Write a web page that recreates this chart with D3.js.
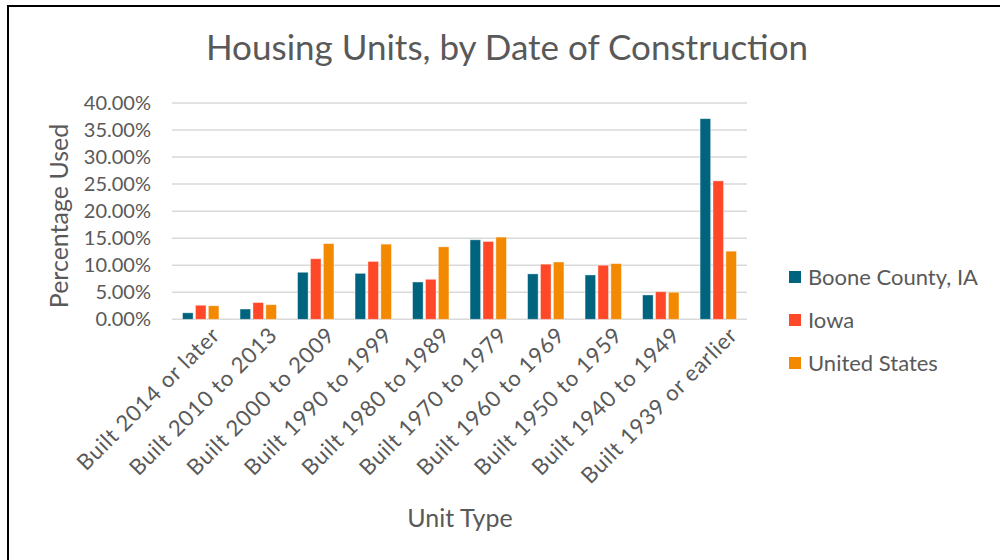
<!DOCTYPE html>
<html>
<head>
<meta charset="utf-8">
<script src="https://cdn.jsdelivr.net/npm/d3@7"></script>
<style>
  body { margin: 0; background: #fff; }
  text { font-family: Lato, "Open Sans", sans-serif; fill: #595959; }
</style>
</head>
<body>
<div id="chart"></div>
<script>
var categories = ["Built 2014 or later", "Built 2010 to 2013", "Built 2000 to 2009", "Built 1990 to 1999",
  "Built 1980 to 1989", "Built 1970 to 1979", "Built 1960 to 1969", "Built 1950 to 1959",
  "Built 1940 to 1949", "Built 1939 or earlier"];
var seriesNames = ["Boone County, IA", "Iowa", "United States"];
var boone = [1.2, 1.9, 8.7, 8.5, 6.9, 14.7, 8.4, 8.2, 4.5, 37.1];
var iowa = [2.6, 3.1, 11.2, 10.7, 7.4, 14.4, 10.2, 10.0, 5.1, 25.6];
var us = [2.5, 2.7, 14.0, 13.9, 13.4, 15.2, 10.6, 10.3, 5.0, 12.6];
var yTicks = [0, 5, 10, 15, 20, 25, 30, 35, 40];
var colors = ["#00647f", "#ff4827", "#f28900"];

var width = 1000,
  height = 560,
  margin = {left: 172, right: 253, top: 103, bottom: 241};

var svg = d3.select("#chart")
  .append("svg")
  .attr("width", width)
  .attr("height", height);

// frame around the chart area
svg.append("rect")
  .attr("x", 8).attr("y", 6)
  .attr("width", 1010).attr("height", 570)
  .style("fill", "none")
  .style("stroke", "#000")
  .style("stroke-width", 2);

var rows = categories.map(function (c, i) {
  return {cat: c, values: [boone[i], iowa[i], us[i]]};
});

var x0 = d3.scaleBand()
  .domain(categories)
  .range([margin.left, width - margin.right])
  .paddingInner(0.367)
  .paddingOuter(0.183);

var x1 = d3.scaleBand()
  .domain(d3.range(seriesNames.length))
  .range([0, x0.bandwidth()])
  .paddingInner(0.18);

var y = d3.scaleLinear()
  .domain([0, 40])
  .range([height - margin.bottom + 0.3, margin.top]);

// gridlines
svg.append("g")
  .selectAll("line")
  .data(yTicks)
  .enter().append("line")
  .attr("x1", margin.left)
  .attr("x2", width - margin.right)
  .attr("y1", function (d) { return y(d); })
  .attr("y2", function (d) { return y(d); })
  .style("stroke", "#d9d9d9")
  .style("stroke-width", 1.5);

// y axis labels
var yAxis = svg.append("g")
  .attr("transform", "translate(" + (margin.left - 8) + ",0)")
  .call(d3.axisLeft(y).tickValues(yTicks).tickSize(0).tickPadding(13)
    .tickFormat(function (d) { return d.toFixed(2) + "%"; }));
yAxis.select(".domain").remove();
yAxis.selectAll("text")
  .style("font-size", "20px")
  .style("fill", "#595959")
  .style("font-family", "Lato, sans-serif");

// bars
var groups = svg.append("g")
  .selectAll("g")
  .data(rows)
  .enter().append("g")
  .attr("transform", function (d) { return "translate(" + x0(d.cat) + ",0)"; });

groups.selectAll("rect")
  .data(function (d) { return d.values; })
  .enter().append("rect")
  .attr("x", function (d, i) { return x1(i); })
  .attr("width", x1.bandwidth())
  .attr("y", function (d) { return y(d); })
  .attr("height", function (d) { return y(0) - y(d); })
  .style("fill", function (d, i) { return colors[i]; })
  .style("stroke", "#fff")
  .style("stroke-opacity", 0.5)
  .style("stroke-width", 0.8);

// x axis labels, rotated
svg.append("g")
  .selectAll("text")
  .data(categories)
  .enter().append("text")
  .attr("transform", function (d) {
    return "translate(" + (x0(d) + x0.bandwidth() / 2 + 15) + "," + 331 + ") rotate(-45)";
  })
  .attr("text-anchor", "end")
  .attr("dy", "0.35em")
  .style("font-size", "22px")
  .style("letter-spacing", "0.8px")
  .text(function (d) { return d; });

// title
svg.append("text")
  .attr("x", 507)
  .attr("y", 60)
  .attr("text-anchor", "middle")
  .style("font-size", "35px")
  .text("Housing Units, by Date of Construction");

// axis titles
svg.append("text")
  .attr("x", 460)
  .attr("y", 527)
  .attr("text-anchor", "middle")
  .style("font-size", "25px")
  .text("Unit Type");

svg.append("text")
  .attr("transform", "translate(68,216) rotate(-90)")
  .attr("text-anchor", "middle")
  .style("font-size", "25px")
  .text("Percentage Used");

// legend
var legend = svg.append("g")
  .selectAll("g")
  .data(seriesNames)
  .enter().append("g")
  .attr("transform", function (d, i) { return "translate(789," + (271 + i * 43) + ")"; });

legend.append("rect")
  .attr("width", 12)
  .attr("height", 12)
  .style("fill", function (d, i) { return colors[i]; });

legend.append("text")
  .attr("x", 19)
  .attr("y", 6)
  .attr("dy", "0.35em")
  .style("font-size", "22px")
  .text(function (d) { return d; });
</script>
</body>
</html>
